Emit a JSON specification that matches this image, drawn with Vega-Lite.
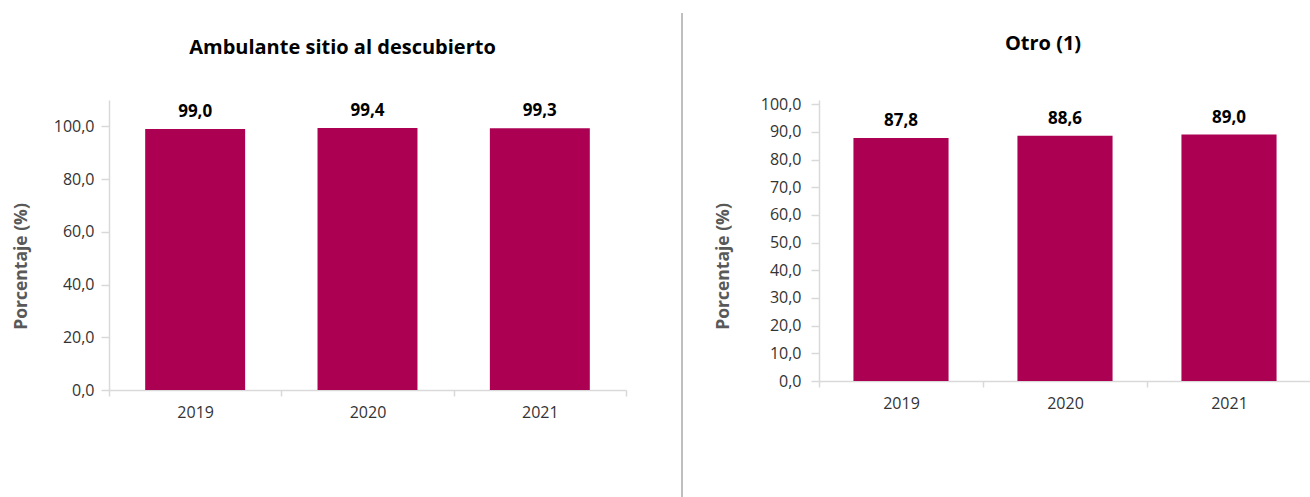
{
  "$schema": "https://vega.github.io/schema/vega-lite/v6.json",
  "padding": {"left": 12, "top": 11, "right": 0, "bottom": 0},
  "bounds": "flush",
  "spacing": 56,
  "config": {
    "view": {"stroke": null},
    "font": "Open Sans",
    "locale": {"number": {"decimal": ",", "thousands": ".", "grouping": [3], "currency": ["", ""]}},
    "axis": {
      "grid": false,
      "domainColor": "#d9d9d9",
      "domainWidth": 1.5,
      "tickColor": "#d9d9d9",
      "tickWidth": 1.5,
      "labelFont": "Open Sans",
      "labelFontSize": 16,
      "labelColor": "#333333",
      "titleFont": "Open Sans",
      "titleFontSize": 17.5,
      "titleFontWeight": "bold",
      "titleColor": "#595959"
    },
    "title": {"font": "Open Sans", "fontSize": 20, "fontWeight": "bold", "color": "#000000"}
  },
  "datasets": {
    "amb": [
      {"anio": "2019", "valor": 99.0},
      {"anio": "2020", "valor": 99.4},
      {"anio": "2021", "valor": 99.3}
    ],
    "otro": [
      {"anio": "2019", "valor": 87.8},
      {"anio": "2020", "valor": 88.6},
      {"anio": "2021", "valor": 89.0}
    ],
    "sep": [{"top": 1.3, "bottom": -0.37}]
  },
  "hconcat": [
    {
      "width": 517,
      "height": 290,
      "title": {"text": "Ambulante sitio al descubierto", "frame": "group", "anchor": "middle", "dx": -25, "offset": 42},
      "data": {"name": "amb"},
      "encoding": {
        "x": {
          "field": "anio", "type": "nominal",
          "scale": {"paddingInner": 0, "paddingOuter": 0},
          "axis": {"title": null, "labelAngle": 0, "tickBand": "extent", "tickSize": 6, "labelPadding": 8}
        },
        "y": {
          "field": "valor", "type": "quantitative",
          "scale": {"domain": [0, 110], "nice": false},
          "axis": {"values": [0, 20, 40, 60, 80, 100], "format": ".1f", "title": "Porcentaje (%)", "titleX": -88, "titleY": 166, "titleBaseline": "middle", "titleAngle": -90, "tickSize": 8, "labelPadding": 7}
        }
      },
      "layer": [
        {"mark": {"type": "bar", "color": "#AC0053", "width": {"band": 0.58}}},
        {
          "mark": {"type": "text", "baseline": "bottom", "dy": -8, "fontSize": 17, "fontWeight": "bold", "color": "#000000", "font": "Open Sans"},
          "encoding": {"text": {"field": "valor", "type": "quantitative", "format": ".1f"}}
        }
      ]
    },
    {
      "width": 81,
      "height": 290,
      "data": {"name": "sep"},
      "mark": {"type": "rule", "color": "#bfbfbf", "strokeWidth": 2},
      "encoding": {
        "x": {"datum": 0, "type": "quantitative", "scale": {"domain": [0, 1], "nice": false}, "axis": null},
        "y": {"field": "bottom", "type": "quantitative", "scale": {"domain": [0, 1], "nice": false, "zero": false}, "axis": null},
        "y2": {"field": "top"}
      }
    },
    {
      "width": 492,
      "height": 281,
      "title": {"text": "Otro (1)", "frame": "group", "anchor": "middle", "dx": -22, "offset": 42},
      "data": {"name": "otro"},
      "encoding": {
        "x": {
          "field": "anio", "type": "nominal",
          "scale": {"paddingInner": 0, "paddingOuter": 0},
          "axis": {"title": null, "labelAngle": 0, "tickBand": "extent", "tickSize": 6, "labelPadding": 8}
        },
        "y": {
          "field": "valor", "type": "quantitative",
          "scale": {"domain": [0, 101.5], "nice": false},
          "axis": {"values": [0, 10, 20, 30, 40, 50, 60, 70, 80, 90, 100], "format": ".1f", "title": "Porcentaje (%)", "titleX": -96, "titleY": 166, "titleBaseline": "middle", "titleAngle": -90, "tickSize": 8, "labelPadding": 10}
        }
      },
      "layer": [
        {"mark": {"type": "bar", "color": "#AC0053", "width": {"band": 0.58}}},
        {
          "mark": {"type": "text", "baseline": "bottom", "dy": -8, "fontSize": 17, "fontWeight": "bold", "color": "#000000", "font": "Open Sans"},
          "encoding": {"text": {"field": "valor", "type": "quantitative", "format": ".1f"}}
        }
      ]
    }
  ]
}
